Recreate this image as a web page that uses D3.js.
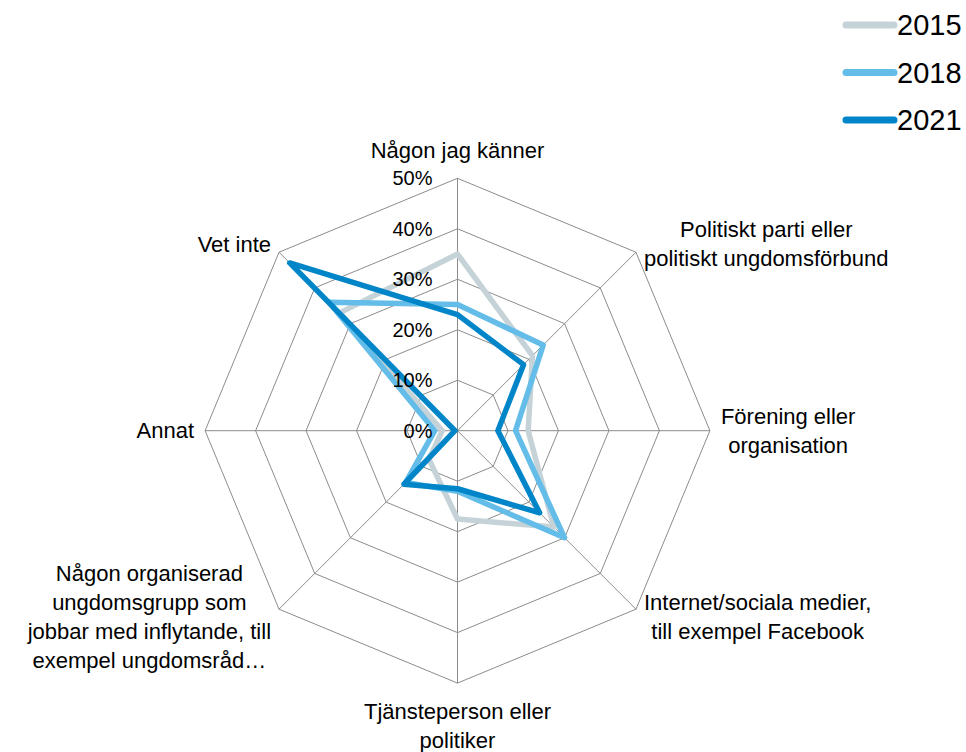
<!DOCTYPE html>
<html>
<head>
<meta charset="utf-8">
<script src="https://cdn.jsdelivr.net/npm/d3@7/dist/d3.min.js"></script>
<style>
  html, body { margin: 0; padding: 0; background: #fff; }
  svg { display: block; }
  text { font-family: "Liberation Sans", Arial, sans-serif; fill: #000; }
</style>
</head>
<body>
<svg id="chart" width="966" height="752"></svg>
<script>
// ---- data ----
const categories = [
  "Någon jag känner",
  "Politiskt parti eller\npolitiskt ungdomsförbund",
  "Förening eller\norganisation",
  "Internet/sociala medier,\ntill exempel Facebook",
  "Tjänsteperson eller\npolitiker",
  "Någon organiserad\nungdomsgrupp som\njobbar med inflytande, till\nexempel ungdomsråd…",
  "Annat",
  "Vet inte"
];
const seriesNames = ["2015", "2018", "2021"];
const values2015 = [0.35, 0.21, 0.14, 0.27, 0.175, 0.08, 0.03, 0.33];
const values2018 = [0.25, 0.24, 0.115, 0.30, 0.12, 0.145, 0.045, 0.36];
const values2021 = [0.23, 0.185, 0.08, 0.23, 0.115, 0.15, 0.005, 0.47];
const tickValues = [0, 0.1, 0.2, 0.3, 0.4, 0.5];
const seriesColors = ["#C5D3D8", "#63BDE8", "#0086C8"];

const series = [values2015, values2018, values2021];

// ---- layout ----
const svg = d3.select("#chart");
const cx = 457.5, cy = 430.7, R = 252.4;
const r = d3.scaleLinear().domain([0, 0.5]).range([0, R]);
const n = categories.length;
const angle = d3.scaleLinear().domain([0, n]).range([0, 2 * Math.PI]);

const g = svg.append("g").attr("transform", `translate(${cx},${cy})`);

// grid rings (octagons)
const ringLine = d3.lineRadial()
  .angle((d, i) => angle(i))
  .radius(d => r(d))
  .curve(d3.curveLinearClosed);

tickValues.filter(t => t > 0).forEach(t => {
  g.append("path")
    .attr("d", ringLine(d3.range(n).map(() => t)))
    .attr("fill", "none")
    .attr("stroke", "#8c8c8c")
    .attr("stroke-width", 1);
});

// spokes
d3.range(n).forEach(i => {
  const a = angle(i);
  g.append("line")
    .attr("x1", 0).attr("y1", 0)
    .attr("x2", r(0.5) * Math.sin(a))
    .attr("y2", -r(0.5) * Math.cos(a))
    .attr("stroke", "#8c8c8c")
    .attr("stroke-width", 1);
});

// series
const seriesLine = d3.lineRadial()
  .angle((d, i) => angle(i))
  .radius(d => r(d))
  .curve(d3.curveLinearClosed);

series.forEach((vals, si) => {
  g.append("path")
    .attr("d", seriesLine(vals))
    .attr("fill", "none")
    .attr("stroke", seriesColors[si])
    .attr("stroke-width", 5.5)
    .attr("stroke-linejoin", "round");
});

// tick labels
const fmt = d3.format(".0%");
tickValues.forEach(t => {
  g.append("text")
    .attr("x", -25)
    .attr("y", -r(t))
    .attr("dy", "0.35em")
    .attr("text-anchor", "end")
    .style("font-size", "20px")
    .text(fmt(t));
});

// category labels
const lh = 29;
categories.forEach((label, i) => {
  const a = angle(i);
  const ex = r(0.5) * Math.sin(a), ey = -r(0.5) * Math.cos(a);
  const lines = label.split("\n");
  const t = g.append("text")
    .attr("text-anchor", "middle")
    .style("font-size", "22px");
  lines.forEach((ln, k) => {
    t.append("tspan").attr("x", 0).attr("dy", k === 0 ? 0 : lh).text(ln);
  });
  let w = 0;
  t.selectAll("tspan").each(function () { w = Math.max(w, this.getComputedTextLength()); });
  const sx = Math.sin(a), sy = -Math.cos(a);
  let centerX, firstLineCenterY;
  const blockH = (lines.length - 1) * lh;
  if (Math.abs(sx) < 0.01) {
    centerX = ex;
    firstLineCenterY = sy < 0 ? ey - 28 : ey + 28;
  } else {
    const padX = Math.abs(sy) < 0.01 ? 11 : 8;
    centerX = sx > 0 ? ex + padX + w / 2 : ex - padX - w / 2;
    const blockCenter = ey + (Math.abs(sy) < 0.01 ? 0 : (sy < 0 ? -8 : 8));
    firstLineCenterY = blockCenter - blockH / 2;
  }
  t.attr("transform", `translate(${centerX},${firstLineCenterY})`);
  t.selectAll("tspan").attr("x", 0);
  t.select("tspan").attr("dy", "0.35em");
});

// legend
const legend = svg.append("g");
seriesNames.forEach((name, i) => {
  const y = 25 + i * 47.5;
  legend.append("line")
    .attr("x1", 846).attr("x2", 894)
    .attr("y1", y).attr("y2", y)
    .attr("stroke", seriesColors[i])
    .attr("stroke-width", 7)
    .attr("stroke-linecap", "round");
  legend.append("text")
    .attr("x", 897).attr("y", y)
    .attr("dy", "0.36em")
    .style("font-size", "29px")
    .text(name);
});
</script>
</body>
</html>
